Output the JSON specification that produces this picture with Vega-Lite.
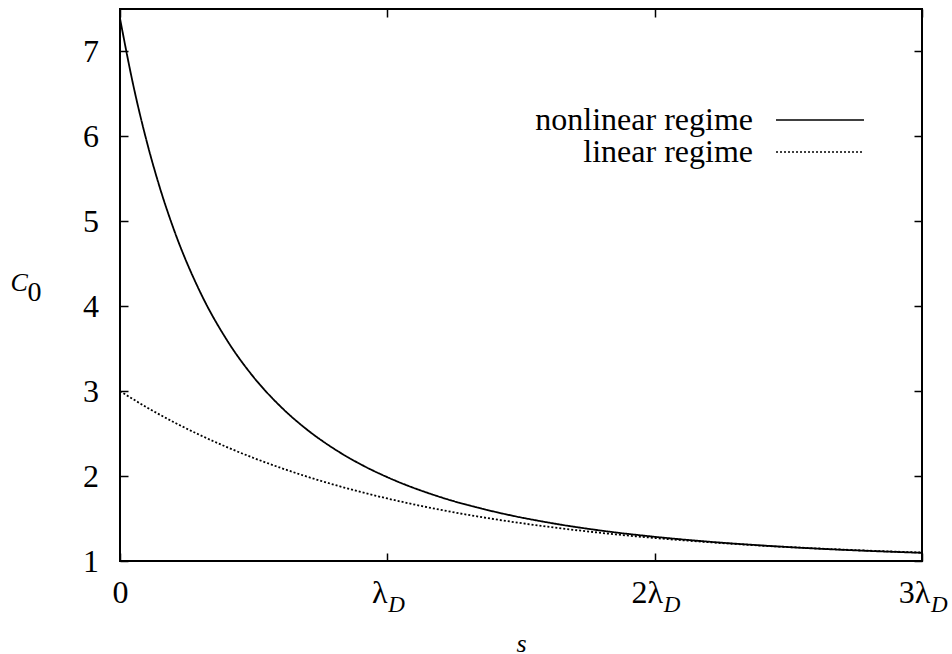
{
  "$schema": "https://vega.github.io/schema/vega-lite/v6.json",
  "width": 802,
  "height": 552,
  "autosize": {"type": "none"},
  "padding": {"left": 120, "top": 9, "right": 30, "bottom": 93},
  "background": "white",
  "view": {"stroke": "black", "strokeWidth": 2},
  "config": {
    "font": "Liberation Serif",
    "axis": {
      "domain": false,
      "grid": false,
      "tickColor": "black",
      "tickSize": -8,
      "tickWidth": 1.5,
      "labelFont": "Liberation Serif",
      "labelFontSize": 32,
      "labelColor": "black",
      "labelFlush": false,
      "labelOverlap": false,
      "titleFont": "Liberation Serif",
      "titleColor": "black",
      "titleFontWeight": "normal"
    },
    "legend": {
      "labelFont": "Liberation Serif",
      "labelFontSize": 32,
      "labelColor": "black",
      "labelLimit": 0
    }
  },
  "datasets": {
    "curves": [
      {"s": 0, "C": 7.389, "series": "nonlinear regime"},
      {"s": 0.05, "C": 6.598, "series": "nonlinear regime"},
      {"s": 0.1, "C": 5.940, "series": "nonlinear regime"},
      {"s": 0.15, "C": 5.386, "series": "nonlinear regime"},
      {"s": 0.2, "C": 4.916, "series": "nonlinear regime"},
      {"s": 0.3, "C": 4.166, "series": "nonlinear regime"},
      {"s": 0.4, "C": 3.601, "series": "nonlinear regime"},
      {"s": 0.5, "C": 3.164, "series": "nonlinear regime"},
      {"s": 0.6, "C": 2.821, "series": "nonlinear regime"},
      {"s": 0.7, "C": 2.546, "series": "nonlinear regime"},
      {"s": 0.8, "C": 2.323, "series": "nonlinear regime"},
      {"s": 0.9, "C": 2.139, "series": "nonlinear regime"},
      {"s": 1.0, "C": 1.987, "series": "nonlinear regime"},
      {"s": 1.2, "C": 1.751, "series": "nonlinear regime"},
      {"s": 1.4, "C": 1.581, "series": "nonlinear regime"},
      {"s": 1.6, "C": 1.454, "series": "nonlinear regime"},
      {"s": 1.8, "C": 1.358, "series": "nonlinear regime"},
      {"s": 2.0, "C": 1.285, "series": "nonlinear regime"},
      {"s": 2.2, "C": 1.228, "series": "nonlinear regime"},
      {"s": 2.4, "C": 1.183, "series": "nonlinear regime"},
      {"s": 2.6, "C": 1.147, "series": "nonlinear regime"},
      {"s": 2.8, "C": 1.119, "series": "nonlinear regime"},
      {"s": 3.0, "C": 1.096, "series": "nonlinear regime"},
      {"s": 0, "C": 3.000, "series": "linear regime"},
      {"s": 0.1, "C": 2.810, "series": "linear regime"},
      {"s": 0.2, "C": 2.637, "series": "linear regime"},
      {"s": 0.3, "C": 2.482, "series": "linear regime"},
      {"s": 0.4, "C": 2.341, "series": "linear regime"},
      {"s": 0.5, "C": 2.213, "series": "linear regime"},
      {"s": 0.6, "C": 2.098, "series": "linear regime"},
      {"s": 0.7, "C": 1.993, "series": "linear regime"},
      {"s": 0.8, "C": 1.899, "series": "linear regime"},
      {"s": 0.9, "C": 1.813, "series": "linear regime"},
      {"s": 1.0, "C": 1.736, "series": "linear regime"},
      {"s": 1.2, "C": 1.602, "series": "linear regime"},
      {"s": 1.4, "C": 1.493, "series": "linear regime"},
      {"s": 1.6, "C": 1.404, "series": "linear regime"},
      {"s": 1.8, "C": 1.331, "series": "linear regime"},
      {"s": 2.0, "C": 1.271, "series": "linear regime"},
      {"s": 2.2, "C": 1.222, "series": "linear regime"},
      {"s": 2.4, "C": 1.181, "series": "linear regime"},
      {"s": 2.6, "C": 1.149, "series": "linear regime"},
      {"s": 2.8, "C": 1.122, "series": "linear regime"},
      {"s": 3.0, "C": 1.100, "series": "linear regime"}
    ],
    "ticks": [
      {"s": 1, "sub": "D"},
      {"s": 2, "sub": "D"},
      {"s": 3, "sub": "D"}
    ]
  },
  "layer": [
    {
      "data": {"name": "curves"},
      "mark": {"type": "line", "interpolate": "monotone", "color": "black", "strokeWidth": 1.8},
      "encoding": {
        "x": {
          "field": "s", "type": "quantitative",
          "scale": {"domain": [0, 3], "nice": false, "zero": false},
          "axis": {
            "orient": "bottom",
            "values": [0, 1, 2, 3],
            "labelExpr": "datum.value == 0 ? '0' : (datum.value == 1 ? 'λ' : datum.value + 'λ')",
            "labelOffset": {"condition": {"test": "datum.value == 0", "value": 0}, "value": -8},
            "labelBaseline": "alphabetic",
            "labelPadding": 49,
            "title": "s",
            "titleFontStyle": "italic",
            "titleFontSize": 26,
            "titleBaseline": "alphabetic",
            "titleAlign": "center",
            "titleX": 401,
            "titleY": 90
          }
        },
        "y": {
          "field": "C", "type": "quantitative",
          "scale": {"domain": [1, 7.5], "nice": false, "zero": false},
          "axis": {
            "orient": "left",
            "values": [1, 2, 3, 4, 5, 6, 7],
            "labelBaseline": "middle",
            "labelPadding": 29.5,
            "title": "C",
            "titleFontStyle": "italic",
            "titleFontSize": 26,
            "titleAngle": 0,
            "titleAlign": "left",
            "titleBaseline": "alphabetic",
            "titleX": -110,
            "titleY": 281
          }
        },
        "detail": {"field": "series"},
        "strokeDash": {
          "field": "series", "type": "nominal",
          "scale": {"domain": ["nonlinear regime", "linear regime"], "range": [[1, 0], [2, 2]]},
          "legend": {
            "title": null,
            "orient": "none",
            "legendX": 684,
            "legendY": 95,
            "padding": 0,
            "rowPadding": 0,
            "symbolType": "M-3,0H3",
            "symbolSize": 860,
            "symbolStrokeWidth": 1.5,
            "symbolStrokeColor": "black",
            "symbolFillColor": "transparent",
            "labelFontSize": 32,
            "labelLimit": 0,
            "encode": {
              "labels": {
                "update": {
                  "x": {"value": -51},
                  "align": {"value": "right"}
                }
              }
            }
          }
        }
      }
    },
    {
      "data": {"name": "ticks"},
      "transform": [{"filter": "datum.s == 1"}],
      "mark": {"type": "text", "font": "Liberation Serif", "fontStyle": "italic", "fontSize": 23, "align": "left", "baseline": "alphabetic", "dx": 1, "dy": 50.5, "color": "black"},
      "encoding": {
        "x": {
          "field": "s", "type": "quantitative",
          "scale": {"domain": [0, 3], "nice": false, "zero": false},
          "axis": {"orient": "top", "values": [0, 1, 2, 3], "labels": false, "title": null}
        },
        "y": {
          "datum": 1, "type": "quantitative",
          "scale": {"domain": [1, 7.5], "nice": false, "zero": false},
          "axis": {
            "orient": "right",
            "values": [1, 2, 3, 4, 5, 6, 7],
            "labels": false,
            "title": "0",
            "titleFontStyle": "normal",
            "titleFontSize": 28,
            "titleAngle": 0,
            "titleAlign": "left",
            "titleBaseline": "alphabetic",
            "titleX": -895,
            "titleY": 291
          }
        },
        "text": {"field": "sub"}
      }
    },
    {
      "data": {"name": "ticks"},
      "transform": [{"filter": "datum.s >= 2"}],
      "mark": {"type": "text", "font": "Liberation Serif", "fontStyle": "italic", "fontSize": 23, "align": "left", "baseline": "alphabetic", "dx": 9, "dy": 50.5, "color": "black"},
      "encoding": {
        "x": {
          "field": "s", "type": "quantitative",
          "scale": {"domain": [0, 3], "nice": false, "zero": false},
          "axis": null
        },
        "y": {
          "datum": 1, "type": "quantitative",
          "scale": {"domain": [1, 7.5], "nice": false, "zero": false},
          "axis": null
        },
        "text": {"field": "sub"}
      }
    }
  ],
  "resolve": {"scale": {"x": "independent", "y": "independent"}}
}
